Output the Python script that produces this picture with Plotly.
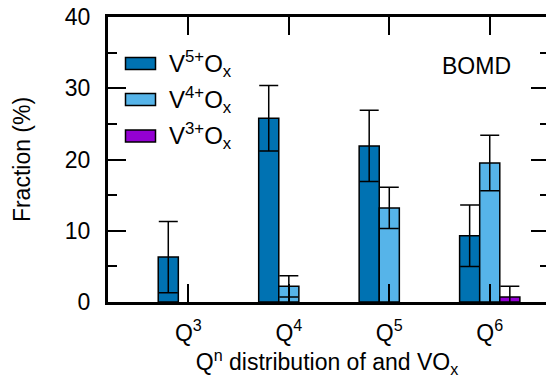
import plotly.graph_objects as go

# ---- data ----
q_positions = [3, 4, 5, 6]
q_labels = ["Q<sup>3</sup>", "Q<sup>4</sup>", "Q<sup>5</sup>", "Q<sup>6</sup>"]
series_names = ["V<sup>5+</sup>O<sub>x</sub>", "V<sup>4+</sup>O<sub>x</sub>", "V<sup>3+</sup>O<sub>x</sub>"]
v5_values = [6.3, 25.8, 21.9, 9.3]
v5_errors = [5.0, 4.6, 5.0, 4.3]
v4_values = [0.0, 2.2, 13.2, 19.5]
v4_errors = [0.0, 1.5, 2.9, 3.9]
v3_values = [0.0, 0.0, 0.0, 0.7]
v3_errors = [0.0, 0.0, 0.0, 1.5]
series_colors = ["#0072B2", "#56B4E9", "#9400D3"]

FONT = "Liberation Sans, Arial, Helvetica, sans-serif"
FS = 23
W, H = 546, 380
L, R, T, B = 108, 0, 17, 78
pw = W - L - R
ph = H - T - B

fig = go.Figure()
for name, vals, errs, col in zip(series_names,
                                 [v5_values, v4_values, v3_values],
                                 [v5_errors, v4_errors, v3_errors],
                                 series_colors):
    # empty (zero) bars/errors are not drawn in the reference
    shown_vals = [v if v > 0 else None for v in vals]
    err_shown = [e if e > 0 else None for e in errs]
    fig.add_trace(go.Bar(
        x=q_positions, y=shown_vals, name=name,
        marker=dict(color=col, line=dict(color="black", width=1.5)),
        error_y=dict(type="data", array=err_shown, visible=True,
                     color="black", thickness=1.5, width=9.5),
        showlegend=False,
    ))

# invisible trace to hold the right-hand tick axis
fig.add_trace(go.Scatter(x=[3], y=[0], yaxis="y2", mode="markers",
                         marker=dict(opacity=0), showlegend=False,
                         hoverinfo="skip"))


def px_to_paper(xp, yp):
    return (xp - L) / pw, 1 - (yp - T) / ph


# manual legend (swatch + label)
row_y = [63.5, 99.5, 136]
shapes = []
annotations = []
for ry, name, col in zip(row_y, series_names, series_colors):
    x0, y0 = px_to_paper(125.5, ry - 6)
    x1, y1 = px_to_paper(155.5, ry + 6)
    shapes.append(dict(type="rect", xref="paper", yref="paper",
                       x0=x0, x1=x1, y0=y1, y1=y0,
                       fillcolor=col, line=dict(color="black", width=1.5)))
    tx, ty = px_to_paper(167, ry)
    annotations.append(dict(xref="paper", yref="paper", x=tx, y=ty,
                            xanchor="left", yanchor="middle", showarrow=False,
                            text=name, font=dict(family=FONT, size=FS + 1, color="black")))

bx, by = px_to_paper(476, 66)
annotations.append(dict(xref="paper", yref="paper", x=bx, y=by,
                        xanchor="center", yanchor="middle", showarrow=False,
                        text="BOMD", font=dict(family=FONT, size=FS, color="black")))

fig.update_layout(
    width=W, height=H,
    margin=dict(l=L, r=R, t=T, b=B, pad=0),
    paper_bgcolor="white", plot_bgcolor="white",
    barmode="group", bargap=0.4, bargroupgap=0,
    font=dict(family=FONT, size=FS, color="black"),
    shapes=shapes, annotations=annotations,
    xaxis=dict(
        range=[2.2, 6.56], tickmode="array", tickvals=q_positions, ticktext=q_labels,
        ticks="inside", ticklen=18, tickwidth=1.5, tickcolor="black",
        showline=True, linewidth=3, linecolor="black", mirror="ticks",
        showgrid=False, zeroline=False, automargin=False,
        ticklabelstandoff=8,
        title=dict(text="Q<sup>n</sup> distribution of and VO<sub>x</sub>",
                   font=dict(family=FONT, size=FS), standoff=8),
    ),
    yaxis=dict(
        range=[0, 40], dtick=10, tick0=0,
        ticks="inside", ticklen=18, tickwidth=1.5, tickcolor="black",
        minor=dict(ticks="inside", ticklen=9, dtick=5, tickwidth=1.5, tickcolor="black", showgrid=False),
        showline=True, linewidth=3, linecolor="black", mirror=False,
        showgrid=False, zeroline=False, automargin=False,
        ticklabelstandoff=10,
        title=dict(text="Fraction (%)", font=dict(family=FONT, size=FS), standoff=28),
    ),
    yaxis2=dict(
        overlaying="y", side="right", range=[0, 40], dtick=10, tick0=0,
        ticks="inside", ticklen=15, tickwidth=1.5, tickcolor="black",
        minor=dict(ticks="inside", ticklen=6, dtick=5, tickwidth=1.5, tickcolor="black", showgrid=False),
        showticklabels=False, showline=False, showgrid=False, zeroline=False,
        automargin=False,
    ),
)

fig.write_html("out.html",
               config={"displayModeBar": False},
               post_script="document.body.style.margin='0';document.body.style.overflow='hidden';")
